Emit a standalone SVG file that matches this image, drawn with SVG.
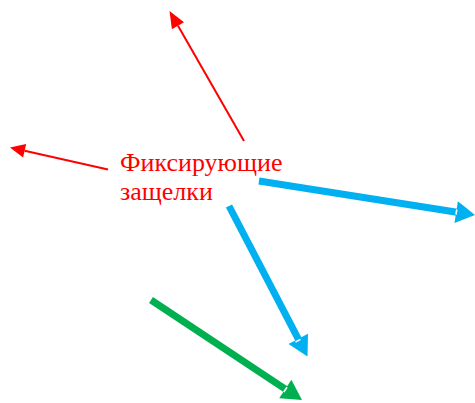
<svg xmlns="http://www.w3.org/2000/svg" width="475" height="403" viewBox="0 0 475 403">
<style>
.red{stroke:#ff0000;stroke-width:2;fill:none}
.blue{stroke:#00b0f0;stroke-width:7;fill:none}
.green{stroke:#00b050;stroke-width:7;fill:none}
.hr{fill:#ff0000}
.hb{fill:#00b0f0}
.hg{fill:#00b050}
.gap{stroke:#ffffff;stroke-width:1.6}
.lbl{font-family:"Liberation Serif","Times New Roman",serif;font-size:26px;fill:#ff0000}
</style>
<rect width="475" height="403" fill="#ffffff"/>
<g id="connectors">
<line class="red" x1="244" y1="141" x2="178" y2="25.8"/>
<polygon class="hr" points="169.5,11 184,22.3 171.9,29.3"/>
<line class="red" x1="108" y1="169.5" x2="24.6" y2="150.8"/>
<polygon class="hr" points="10,147.5 26.2,144 23.1,157.6"/>
<line class="blue" x1="259" y1="181" x2="457" y2="212.2"/>
<polygon class="hb" points="475,215 457.9,201.2 454.5,223"/>
<line class="gap" x1="456.8" y1="209.5" x2="456" y2="214.5"/>
<line class="blue" x1="229" y1="206" x2="299" y2="340.3"/>
<polygon class="hb" points="307.5,356.5 288.5,343.9 308,333.7"/>
<line class="gap" x1="295.5" y1="342" x2="300.5" y2="339.4"/>
<line class="green" x1="151" y1="300" x2="286.5" y2="389.8"/>
<polygon class="hg" points="302,400 279.2,398.2 291.4,379.8"/>
<line class="gap" x1="283.8" y1="392" x2="287" y2="387.3"/>
</g>
<g id="label">
<text class="lbl" x="120" y="171">Фиксирующие</text>
<text class="lbl" x="120" y="200">защелки</text>
</g>
</svg>
